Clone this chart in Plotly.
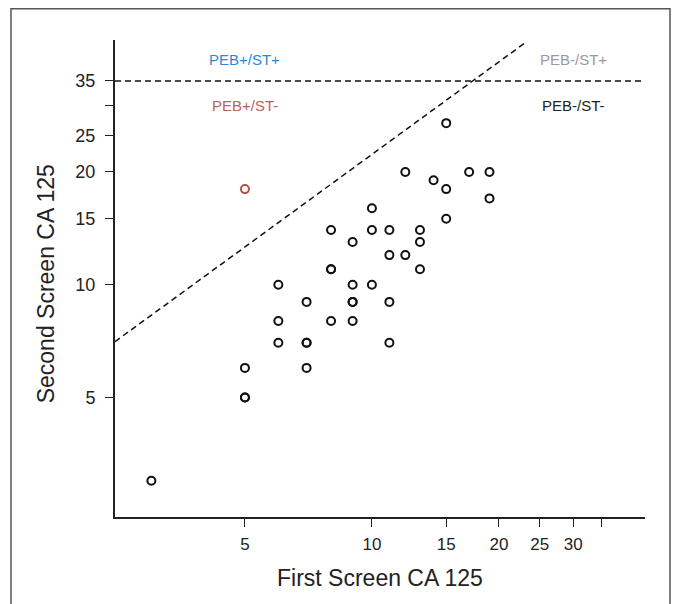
import math
import plotly.graph_objects as go

# First screen / second screen CA 125 values (black points)
first_screen = [3, 5, 5, 5, 6, 6, 6, 7, 7, 7, 7, 8, 8, 8, 8, 9, 9, 9, 9, 9, 10, 10, 10,
                11, 11, 11, 11, 12, 12, 13, 13, 13, 14, 15, 15, 15, 17, 19, 19]
second_screen = [3, 6, 5, 5, 10, 8, 7, 9, 7, 7, 6, 14, 11, 11, 8, 13, 10, 9, 9, 8, 16, 14, 10,
                 14, 12, 9, 7, 20, 12, 14, 13, 11, 19, 27, 18, 15, 20, 20, 17]

# Highlighted point (PEB+/ST-)
red_first = [5]
red_second = [18]

# Threshold lines
st_threshold = 35
peb_line_x = [2.46, 23.05]
peb_line_y = [7.05, 44.2]

x_tickvals = [5, 10, 15, 20, 25, 30, 35]
x_ticktext = ["5", "10", "15", "20", "25", "30", ""]
y_tickvals = [5, 10, 15, 20, 25, 30, 35]
y_ticktext = ["5", "10", "15", "20", "25", "", "35"]

quadrant_labels = ["PEB+/ST+", "PEB+/ST-", "PEB-/ST+", "PEB-/ST-"]
quadrant_x = [5, 5, 30, 30]
quadrant_y = [40, 30, 40, 30]
quadrant_colors = ["#2a8bd2", "#c0625c", "#9a9a9a", "#222222"]

x_range = [2.46, 44.4]
y_range = [2.40, 45]

FONT = "Liberation Sans, Arial, sans-serif"

fig = go.Figure()

fig.add_trace(go.Scatter(
    x=x_range, y=[st_threshold, st_threshold], mode="lines",
    line=dict(color="#111111", width=1.5, dash="6px,4px"), hoverinfo="skip", showlegend=False))
fig.add_trace(go.Scatter(
    x=peb_line_x, y=peb_line_y, mode="lines",
    line=dict(color="#111111", width=1.5, dash="6px,4px"), hoverinfo="skip", showlegend=False))

fig.add_trace(go.Scatter(
    x=first_screen, y=second_screen, mode="markers",
    marker=dict(symbol="circle-open", size=8, color="#111111", line=dict(width=2, color="#111111")),
    showlegend=False))
fig.add_trace(go.Scatter(
    x=red_first, y=red_second, mode="markers",
    marker=dict(symbol="circle-open", size=8, color="#b0524c", line=dict(width=2, color="#b0524c")),
    showlegend=False))

for t, xv, yv, c in zip(quadrant_labels, quadrant_x, quadrant_y, quadrant_colors):
    fig.add_annotation(x=math.log10(xv), y=math.log10(yv), xref="x", yref="y", text=t,
                       showarrow=False, xanchor="center", yanchor="middle",
                       font=dict(family=FONT, size=15, color=c))

# axis titles
fig.add_annotation(x=0.5, y=-0.128, xref="paper", yref="paper", text="First Screen CA 125",
                   showarrow=False, xanchor="center", yanchor="middle",
                   font=dict(family=FONT, size=23, color="#222222"))
fig.add_annotation(x=-0.130, y=0.488, xref="paper", yref="paper", text="Second Screen CA 125",
                   showarrow=False, xanchor="center", yanchor="middle", textangle=-90,
                   font=dict(family=FONT, size=23, color="#222222"))

# outer frame
fig.add_shape(type="rect", xref="paper", yref="paper",
              x0=(11 - 115) / 530, x1=(670 - 115) / 530,
              y0=(517 - 640) / 477, y1=1.0655,
              line=dict(color="#555555", width=1.5), fillcolor="rgba(0,0,0,0)", layer="below")

fig.update_xaxes(type="log", range=[math.log10(x_range[0]), math.log10(x_range[1])],
                 tickvals=x_tickvals, ticktext=x_ticktext, ticks="outside", ticklen=8,
                 tickwidth=1.2, tickcolor="#222222", showline=True, linecolor="#222222",
                 linewidth=2, showgrid=False, zeroline=False, ticklabelstandoff=3,
                 tickfont=dict(family=FONT, size=17, color="#222222"))
fig.update_yaxes(type="log", range=[math.log10(y_range[0]), math.log10(y_range[1])],
                 tickvals=y_tickvals, ticktext=y_ticktext, ticks="outside", ticklen=8,
                 tickwidth=1.2, tickcolor="#222222", showline=True, linecolor="#222222",
                 linewidth=2, showgrid=False, zeroline=False, ticklabelstandoff=6,
                 tickfont=dict(family=FONT, size=18, color="#222222"))

fig.update_layout(width=679, height=604, margin=dict(l=107, r=42, t=32, b=95),
                  paper_bgcolor="white", plot_bgcolor="white", showlegend=False)

fig.write_html("out.html")
